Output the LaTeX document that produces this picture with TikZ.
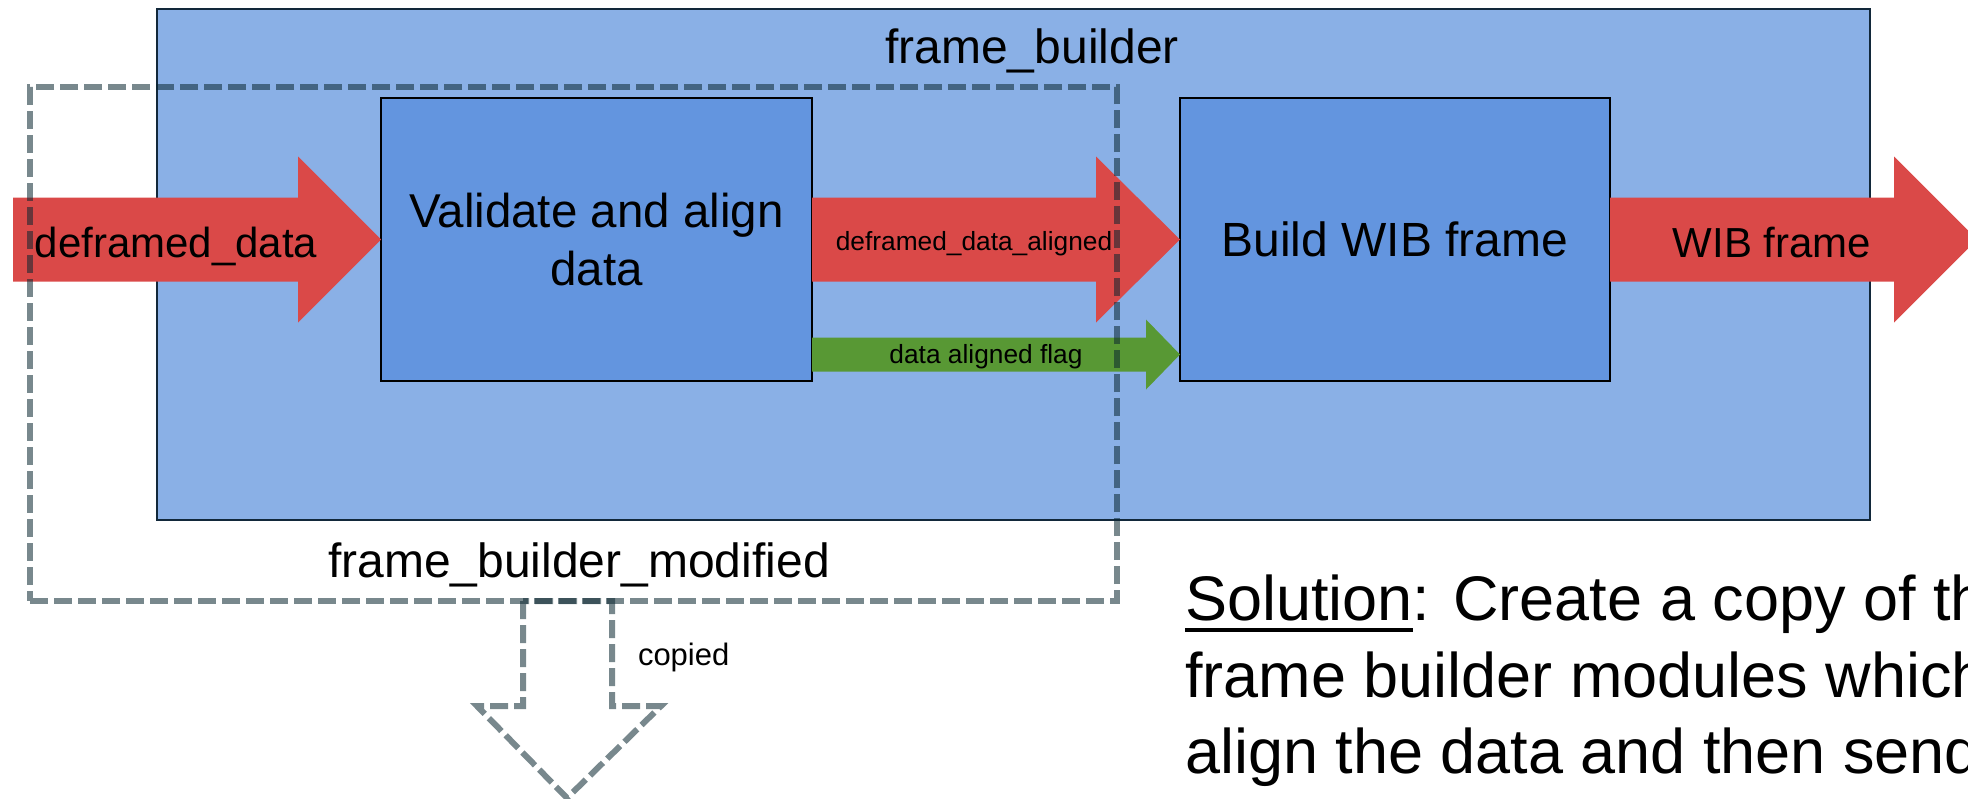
\documentclass[tikz,border=0pt]{standalone}
\usepackage{fontspec}
\setmainfont{Liberation Sans}
\usetikzlibrary{calc}
\definecolor{outerblue}{RGB}{138,176,230}
\definecolor{innerblue}{RGB}{99,149,223}
\definecolor{arrowred}{RGB}{218,73,72}
\definecolor{flaggreen}{RGB}{88,152,52}
\definecolor{outerline}{RGB}{18,40,58}
\definecolor{dashgray}{RGB}{10,38,48}
% #1 style, #2 start, #3 tip, #4 half shaft, #5 half head, #6 head length
\newcommand\blkarrow[6]{%
  \fill[#1] let \p1=(#2), \p2=(#3) in
    (\x1,\y2+#4pt) -- (\x2-#6pt,\y2+#4pt) -- (\x2-#6pt,\y2+#5pt) -- (\x2,\y2)
    -- (\x2-#6pt,\y2-#5pt) -- (\x2-#6pt,\y2-#4pt) -- (\x1,\y2-#4pt) -- cycle;}
\newcommand\ulsol[1]{\setbox0\hbox{#1}\rlap{\rule[-12pt]{\wd0}{4pt}}\box0}
\begin{document}
\begin{tikzpicture}[x=1pt,y=-1pt,
  outerbox/.style={draw=outerline,line width=2pt,fill=outerblue,inner sep=0,outer sep=0},
  innerbox/.style={draw=black,line width=2.5pt,fill=innerblue,inner sep=0,outer sep=0,align=center},
  lbl/.style={inner sep=0,outer sep=0,anchor=base,text=black},
  dashbox/.style={draw=dashgray,draw opacity=0.55,line width=6pt,dash pattern=on 18pt off 6pt,inner sep=0,outer sep=0},
  dashline/.style={draw=dashgray,draw opacity=0.55,line width=6pt,dash pattern=on 18pt off 6pt},
  redarrow/.style={fill=arrowred},
  greenarrow/.style={fill=flaggreen}]
\useasboundingbox (0,0) rectangle (1968,798);
\clip (0,0) rectangle (1968,798);

\node[outerbox,minimum width=1713pt,minimum height=511pt] (fb) at (1013.5,264.5) {};
\node[lbl,font=\fontsize{48}{58}\selectfont] (fblabel) at (1032,63) {frame\_builder};

\node[innerbox,minimum width=431pt,minimum height=283pt,font=\fontsize{47.5}{58}\selectfont] (validate) at (596.5,239.5) {Validate and align\\data};
\node[innerbox,minimum width=430pt,minimum height=283pt,font=\fontsize{48}{58}\selectfont] (build) at (1395,239.5) {Build WIB frame};

\coordinate (din) at (13,239.5);
\coordinate (wout) at (1977,239.5);

\blkarrow{redarrow}{din}{validate.west}{42}{83}{83}
\blkarrow{redarrow}{validate.east}{build.west}{42}{83}{84}
\blkarrow{redarrow}{build.east}{wout}{42}{83}{83}
\blkarrow{greenarrow}{$(validate.east)+(0,115)$}{$(build.west)+(0,115)$}{17}{35}{34}

\node[lbl,font=\fontsize{42}{50}\selectfont] (dlbl) at (176,257) {deframed\_data};
\node[lbl,font=\fontsize{42}{50}\selectfont] (wlbl) at (1772,257) {WIB frame};
\node[lbl,font=\fontsize{26.3}{32}\selectfont] (dalbl) at (974,250) {deframed\_data\_aligned};
\node[lbl,font=\fontsize{26.3}{32}\selectfont] (flbl) at (986,363) {data aligned flag};

\node[dashbox,minimum width=1087pt,minimum height=514pt] (fbm) at (573.5,344) {};
\node[lbl,font=\fontsize{48}{58}\selectfont] (fbmlbl) at (579,577) {frame\_builder\_modified};

\coordinate (cptop) at (567,601);
\draw[dashline] ($(cptop)+(-44,0)$) -- ($(cptop)+(-44,105)$) -- ($(cptop)+(-90,105)$)
  -- ($(cptop)+(0,197)$) -- ($(cptop)+(94,105)$) -- ($(cptop)+(45,105)$)
  -- ($(cptop)+(45,0)$) -- cycle;
\node[lbl,anchor=base west,font=\fontsize{31}{37}\selectfont] (cplbl) at (638,665) {copied};

\node[lbl,anchor=base west,font=\fontsize{63}{77}\selectfont] (sol1) at (1185,620) {\ulsol{Solution}: Create a copy of the};
\node[lbl,anchor=base west,font=\fontsize{63}{77}\selectfont] (sol2) at (1185,697) {frame builder modules which};
\node[lbl,anchor=base west,font=\fontsize{63}{77}\selectfont] (sol3) at (1185,773) {align the data and then send};
\end{tikzpicture}
\end{document}
